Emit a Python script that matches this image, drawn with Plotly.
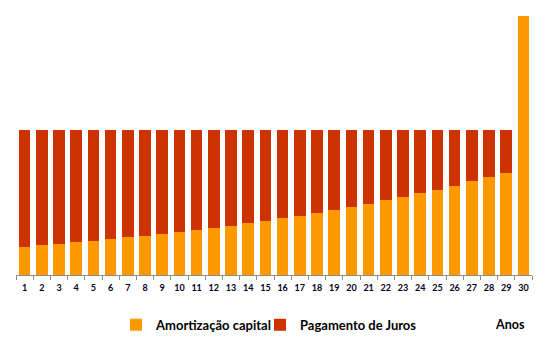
import plotly.graph_objects as go

anos = [str(i) for i in range(1, 31)]
amortizacao = [19.3, 20.7, 21.4, 22.8, 23.4, 24.8, 26.2, 26.9, 28.3, 29.7,
               31.0, 32.4, 33.8, 35.9, 37.2, 39.3, 40.7, 42.8, 44.8, 46.9,
               49.0, 51.7, 53.8, 56.6, 58.6, 61.4, 64.8, 67.6, 70.3, 178.6]
juros = [80.7, 79.3, 78.6, 77.2, 76.6, 75.2, 73.8, 73.1, 71.7, 70.3,
         69.0, 67.6, 66.2, 64.1, 62.8, 60.7, 59.3, 57.2, 55.2, 53.1,
         51.0, 48.3, 46.2, 43.4, 41.4, 38.6, 35.2, 32.4, 29.7, 0]

fig = go.Figure()
fig.add_trace(go.Bar(x=anos, y=amortizacao, name="<b>Amortização capital</b>",
                     marker=dict(color="#FF9900", line=dict(width=0)), legend="legend"))
fig.add_trace(go.Bar(x=anos, y=juros, name="<b>Pagamento de Juros</b>",
                     marker=dict(color="#CC3300", line=dict(width=0)), legend="legend2"))

leg_common = dict(orientation="h", xref="container", yref="container",
                  xanchor="left", yanchor="top", itemwidth=30,
                  font=dict(size=13, family="Lato", color="#000000"),
                  bgcolor="rgba(0,0,0,0)")

fig.update_layout(
    barmode="stack",
    bargap=0.33,
    width=539, height=355,
    margin=dict(l=8, r=15, t=6, b=88, autoexpand=False),
    plot_bgcolor="white", paper_bgcolor="white",
    font=dict(family="Lato", color="#000000"),
    xaxis=dict(type="category", showline=True, linecolor="#8C8C8C", linewidth=1,
               ticks="outside", tickson="boundaries", ticklen=4, tickcolor="#8C8C8C",
               tickangle=0, automargin=False, ticklabelstandoff=4,
               tickvals=anos, ticktext=["<b>" + a + "</b>" for a in anos],
               tickfont=dict(size=9, family="Lato", color="#000022"),
               showgrid=False, zeroline=False),
    yaxis=dict(range=[0, 180], visible=False, showgrid=False, zeroline=False,
               automargin=False),
    showlegend=True,
    legend=dict(x=0.2004, y=0.150, **leg_common),
    legend2=dict(x=0.4675, y=0.150, **leg_common),
    annotations=[dict(text="<b>Anos</b>", x=0.957, y=-0.19, xref="paper", yref="paper",
                      showarrow=False, font=dict(size=12.5, family="Lato", color="#000000"),
                      xanchor="center", yanchor="middle")],
)

fig.write_html("out.html")
